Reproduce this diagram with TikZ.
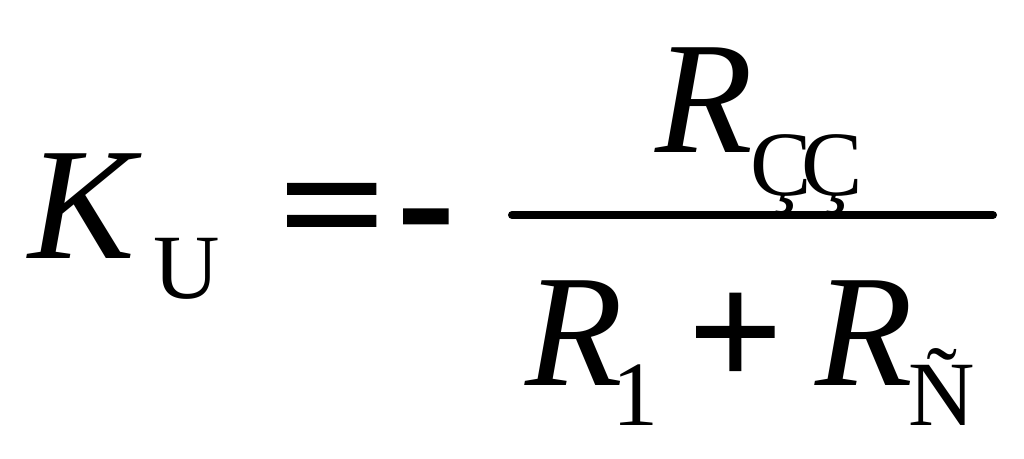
\documentclass[tikz,border=0pt]{standalone}
\usepackage{fontspec}
\setmainfont{Liberation Serif}
\newfontfamily\thickfont[FakeBold=2.5]{Liberation Serif}
\begin{document}
\begin{tikzpicture}[x=1pt,y=-1pt,
  big/.style={inner sep=0pt,anchor=base west,font=\fontsize{160}{160}\selectfont\itshape},
  sub/.style={inner sep=0pt,anchor=base west,font=\fontsize{92}{92}\selectfont},
  op/.style={inner sep=0pt,anchor=base west,font=\thickfont\fontsize{160}{160}\selectfont}]
\useasboundingbox[fill=white] (0,0) rectangle (1024,458);
\node[big] (K) at (28,258) {K};
\node[sub] (U) at (153,298) {U};
\node[op,xscale=1.14,transform shape] (eq) at (280,258) {=};
\node[op] (minus) at (399,254) {-};
\coordinate (barL) at (512,215);
\coordinate (barR) at (993,215);
\draw[line width=8pt,line cap=round] (barL) -- (barR);
\node[big] (Rn) at (655,152) {R};
\node[sub] (CC) at (750,195) {Ç\kern-10ptÇ};
\node[big] (R1) at (525,385) {R};
\node[sub] (one) at (612,425) {1};
\node[op] (plus) at (690,385) {+};
\node[big] (R2) at (815,385) {R};
\node[sub] (N) at (908,425) {Ñ};
\end{tikzpicture}
\end{document}
